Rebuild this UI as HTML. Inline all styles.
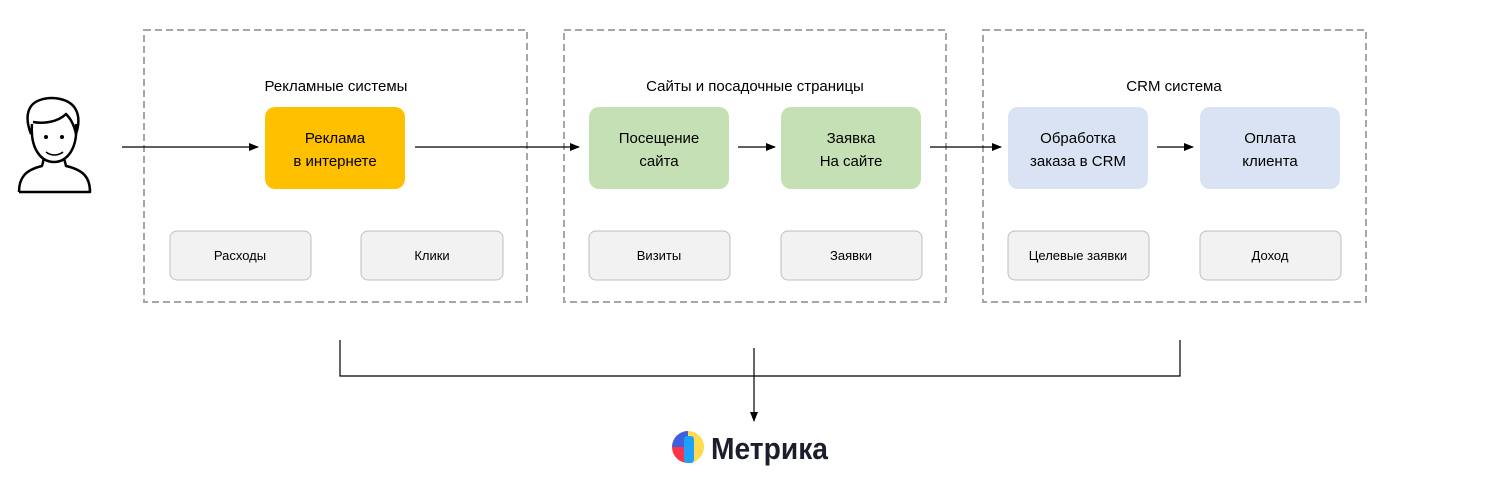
<!DOCTYPE html>
<html><head><meta charset="utf-8"><style>
body{margin:0;width:1508px;height:490px;background:#fff;overflow:hidden;font-family:"Liberation Sans","DejaVu Sans",sans-serif}
</style></head><body>
<svg width="1508" height="490" xmlns="http://www.w3.org/2000/svg" font-family="Liberation Sans, DejaVu Sans, sans-serif">
<defs><marker id="a" markerWidth="10" markerHeight="8" refX="9" refY="4" orient="auto" markerUnits="userSpaceOnUse"><path d="M0,0 L10,4 L0,8z" fill="#000"/></marker></defs>
<g fill="none" stroke="#a6a6a6" stroke-width="2" stroke-dasharray="7,4">
<rect x="144" y="30" width="383" height="272"/><rect x="564" y="30" width="382" height="272"/><rect x="983" y="30" width="383" height="272"/>
</g>
<g font-size="15" fill="#000" text-anchor="middle">
<text x="336" y="91">Рекламные системы</text><text x="755" y="91">Сайты и посадочные страницы</text><text x="1174" y="91">CRM система</text>
</g>
<rect x="265" y="107" width="140" height="82" rx="10" fill="#ffc000"/>
<rect x="589" y="107" width="140" height="82" rx="10" fill="#c5e0b4"/>
<rect x="781" y="107" width="140" height="82" rx="10" fill="#c5e0b4"/>
<rect x="1008" y="107" width="140" height="82" rx="10" fill="#dae3f3"/>
<rect x="1200" y="107" width="140" height="82" rx="10" fill="#dae3f3"/>
<g font-size="15" text-anchor="middle">
<text x="335" y="143">Реклама</text><text x="335" y="166">в интернете</text>
<text x="659" y="143">Посещение</text><text x="659" y="166">сайта</text>
<text x="851" y="143">Заявка</text><text x="851" y="166">На сайте</text>
<text x="1078" y="143">Обработка</text><text x="1078" y="166">заказа в CRM</text>
<text x="1270" y="143">Оплата</text><text x="1270" y="166">клиента</text>
</g>
<g fill="#f2f2f2" stroke="#bfbfbf">
<rect x="170" y="231" width="141" height="49" rx="7"/><rect x="361" y="231" width="142" height="49" rx="7"/>
<rect x="589" y="231" width="141" height="49" rx="7"/><rect x="781" y="231" width="141" height="49" rx="7"/>
<rect x="1008" y="231" width="141" height="49" rx="7"/><rect x="1200" y="231" width="141" height="49" rx="7"/>
</g>
<g font-size="13" text-anchor="middle">
<text x="240" y="260">Расходы</text><text x="432" y="260">Клики</text><text x="659" y="260">Визиты</text><text x="851" y="260">Заявки</text><text x="1078" y="260">Целевые заявки</text><text x="1270" y="260">Доход</text>
</g>
<g stroke="#000" stroke-width="1.2" fill="none">
<line x1="122" y1="147" x2="258" y2="147" marker-end="url(#a)"/>
<line x1="415" y1="147" x2="579" y2="147" marker-end="url(#a)"/>
<line x1="738" y1="147" x2="775" y2="147" marker-end="url(#a)"/>
<line x1="930" y1="147" x2="1001" y2="147" marker-end="url(#a)"/>
<line x1="1157" y1="147" x2="1193" y2="147" marker-end="url(#a)"/>
<polyline points="340,340 340,376 1180,376 1180,340"/>
<line x1="754" y1="348" x2="754" y2="421" marker-end="url(#a)"/>
</g>
<g fill="none" stroke="#000" stroke-width="2.5" stroke-linejoin="round">
<path d="M19,192 C19,178 25,170 42,166 L44,158 M19,192 L90,192 C90,178 84,170 66,166 L64,158"/>
<path d="M32,124 C30,150 42,162 54,162 C66,162 78,150 76,124"/>
<path d="M31,134 C24,116 28,104 40,100 C52,96 70,98 76,110 C80,118 78,128 76,134 C74,124 70,118 66,114 C58,122 44,124 33,122"/>
<path d="M46,152 C51,156 58,156 63,152" stroke-width="1.5"/>
</g>
<circle cx="46" cy="137" r="2" fill="#000"/><circle cx="62" cy="137" r="2" fill="#000"/>
<circle cx="688" cy="447" r="16" fill="#ffdb4d"/>
<path d="M688,431 A16,16 0 0 0 672,447 L688,447 Z" fill="#3f5fe0"/>
<path d="M672,447 A16,16 0 0 0 688,463 L688,447 Z" fill="#ff3347"/>
<rect x="684" y="436" width="10" height="27" rx="3" fill="#1ea0ff"/>
<text x="711" y="459" font-size="31" font-weight="bold" fill="#1c1f2b" textLength="117" lengthAdjust="spacingAndGlyphs">Метрика</text>
</svg>
</body></html>
